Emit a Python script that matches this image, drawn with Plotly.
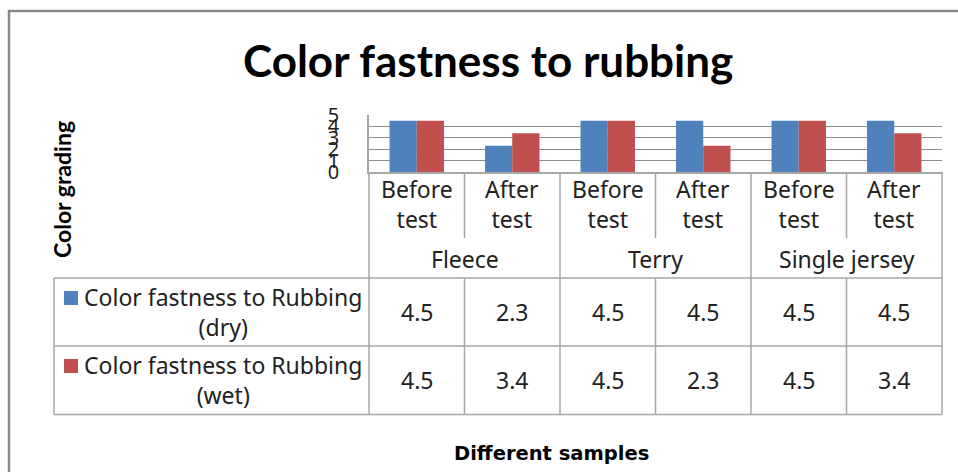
import plotly.graph_objects as go

# ---- data ----
groups = ["Fleece", "Terry", "Single jersey"]
sub_labels = ["Before<br>test", "After<br>test"] * 3
categories = [f"{g} - {s.replace('<br>', ' ')}" for g in groups for s in ["Before<br>test", "After<br>test"]]
series_names = ["Color fastness to Rubbing<br>(dry)", "Color fastness to Rubbing<br>(wet)"]
dry = [4.5, 2.3, 4.5, 4.5, 4.5, 4.5]
wet = [4.5, 3.4, 4.5, 2.3, 4.5, 3.4]
values = [dry, wet]
colors = ["#4F81BD", "#C0504D"]
y_ticks = [0, 1, 2, 3, 4, 5]

title_text = "Color fastness to rubbing"
y_title = "Color grading"
x_title = "Different samples"

# ---- layout geometry (pixels) ----
W, H = 958, 472
L, R, T, B = 369, 942, 115, 172
PW, PH = R - L, B - T


def px(x):
    return (x - L) / PW


def py(y):
    return (B - y) / PH


GRID = "#8C8C8C"
LINE = "#A6A6A6"
TXT = "#222222"
FONT = "Noto Sans"
TFS = 23

fig = go.Figure()
for name, vals, col in zip(series_names, values, colors):
    fig.add_trace(go.Bar(x=categories, y=vals, name=name.replace("<br>", " "),
                         marker=dict(color=col, line=dict(width=0))))

shapes = []
ann = []

# outer chart border
shapes.append(dict(type="rect", xref="paper", yref="paper",
                   x0=px(9), x1=px(1200), y0=py(11), y1=py(700),
                   line=dict(color="#8A8A8A", width=2.5)))

# table horizontal lines
for yy in [278, 346, 414.5]:
    shapes.append(dict(type="line", xref="paper", yref="paper",
                       x0=px(54), x1=px(R), y0=py(yy), y1=py(yy),
                       line=dict(color=LINE, width=1.5)))
# table outer verticals
for xx, top in [(54, 278), (L, B), (R, B)]:
    shapes.append(dict(type="line", xref="paper", yref="paper",
                       x0=px(xx), x1=px(xx), y0=py(top), y1=py(414.5),
                       line=dict(color=LINE, width=1.5)))

# inner dividers between categories
n = len(categories)
for i in range(n - 1):
    xpos = i + 0.5
    if (i + 1) % 2 == 0:  # group boundary
        segs = [(B, 414.5)]
    else:
        segs = [(B, 238), (278, 414.5)]
    for a, b in segs:
        shapes.append(dict(type="line", xref="x", yref="paper",
                           x0=xpos, x1=xpos, y0=py(a), y1=py(b),
                           line=dict(color=LINE, width=1.5)))

# sub-category labels
for i, lab in enumerate(sub_labels):
    ann.append(dict(x=i, y=py(204), xref="x", yref="paper",
                    text=lab, showarrow=False,
                    font=dict(family=FONT, size=TFS, color=TXT),
                    xanchor="center", yanchor="middle"))
# group labels
for k, g in enumerate(groups):
    ann.append(dict(x=2 * k + 0.5, y=py(259), xref="x", yref="paper",
                    text=g, showarrow=False,
                    font=dict(family=FONT, size=TFS, color=TXT),
                    xanchor="center", yanchor="middle"))

# data rows
row_centers = [312, 380]
for r, (name, vals, col) in enumerate(zip(series_names, values, colors)):
    yc = row_centers[r]
    for i, v in enumerate(vals):
        ann.append(dict(x=i, y=py(yc), xref="x", yref="paper",
                        text=f"{v}", showarrow=False,
                        font=dict(family=FONT, size=TFS, color=TXT),
                        xanchor="center", yanchor="middle"))
    ann.append(dict(x=px(223), y=py(yc), xref="paper", yref="paper",
                    text=name, showarrow=False,
                    font=dict(family=FONT, size=TFS, color=TXT),
                    xanchor="center", yanchor="middle"))
    shapes.append(dict(type="rect", xref="paper", yref="paper",
                       x0=px(64), x1=px(78), y0=py(yc - 21), y1=py(yc - 7),
                       fillcolor=col, line=dict(width=0)))

# titles
ann.append(dict(x=px(488), y=py(60), xref="paper", yref="paper", text=f"<b>{title_text}</b>",
                showarrow=False, font=dict(family="Lato", size=44, color="#000000"),
                xanchor="center", yanchor="middle"))
ann.append(dict(x=px(62), y=py(190), xref="paper", yref="paper", text=f"<b>{y_title}</b>",
                showarrow=False, textangle=-90, font=dict(family="Lato", size=23, color="#000000"),
                xanchor="center", yanchor="middle"))
ann.append(dict(x=px(551), y=py(453), xref="paper", yref="paper", text=f"<b>{x_title}</b>",
                showarrow=False, font=dict(family="DejaVu Sans", size=19.5, color="#000000"),
                xanchor="center", yanchor="middle"))

fig.update_layout(
    width=W, height=H,
    margin=dict(l=L, r=W - R, t=T, b=H - B, autoexpand=False),
    paper_bgcolor="white", plot_bgcolor="white",
    barmode="group", bargap=0.43, bargroupgap=0,
    showlegend=False,
    shapes=shapes, annotations=ann,
    xaxis=dict(type="category", range=[-0.5, n - 0.5], showticklabels=False,
               showgrid=False, showline=True, linecolor=LINE, linewidth=1.5,
               ticks="", zeroline=False),
    yaxis=dict(range=[0, 5], tickvals=y_ticks, showgrid=True, gridcolor=GRID, gridwidth=1,
               showline=True, linecolor=LINE, linewidth=1.5, zeroline=False,
               ticks="", ticklabelstandoff=24,
               tickfont=dict(family=FONT, size=20, color=TXT)),
)

fig.write_html("out.html", config={"displayModeBar": False},
               post_script="document.body.style.margin='0px';")
